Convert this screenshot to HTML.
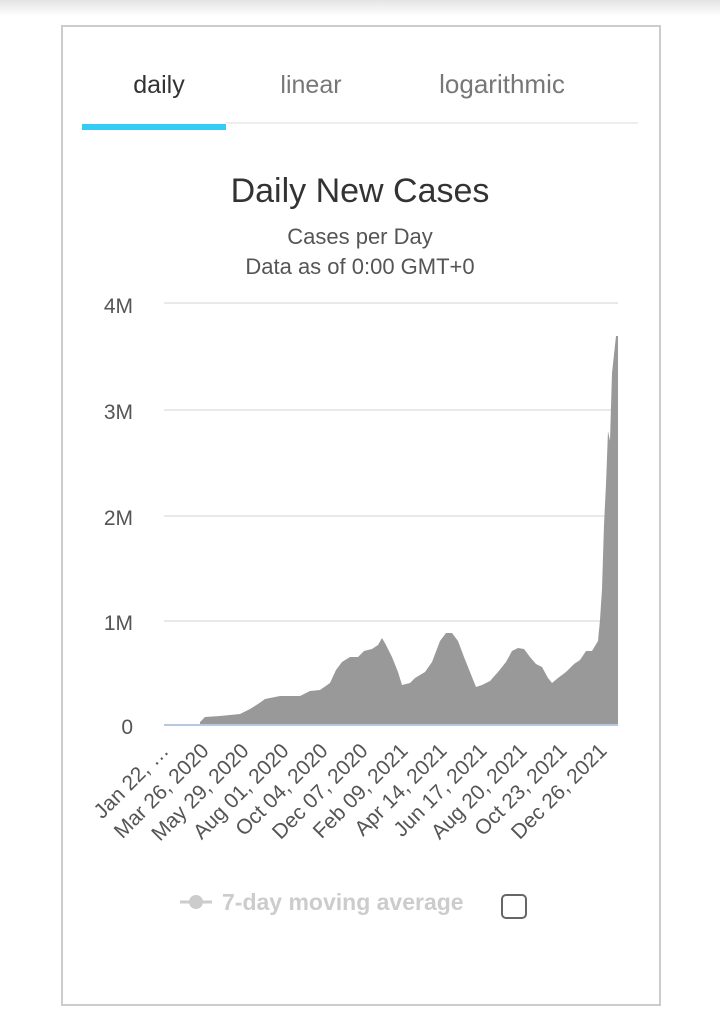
<!DOCTYPE html>
<html><head><meta charset="utf-8"><style>
body{margin:0;width:720px;height:1016px;background:#fff;position:relative;overflow:hidden;font-family:"Liberation Sans",sans-serif}
.shadow{position:absolute;left:0;top:0;width:720px;height:16px;background:linear-gradient(#e4e4e4,#fff)}
.card{position:absolute;left:61px;top:25px;width:596px;height:977px;border:2px solid #ccc}
</style></head><body>
<div class="shadow"></div>
<div class="card"></div>
<svg width="720" height="1016" style="position:absolute;left:0;top:0" font-family="Liberation Sans, sans-serif">
<text x="159" y="93" font-size="25" fill="#333" text-anchor="middle">daily</text>
<text x="311" y="93" font-size="25" fill="#777" text-anchor="middle">linear</text>
<text x="502" y="93" font-size="26" fill="#777" text-anchor="middle">logarithmic</text>
<rect x="226" y="122" width="412" height="2" fill="#eee"/>
<rect x="82" y="124" width="144" height="6" fill="#33ccf5"/>
<text x="360" y="202" font-size="34" fill="#333" text-anchor="middle">Daily New Cases</text>
<text x="360" y="244" font-size="22" fill="#555" text-anchor="middle">Cases per Day</text>
<text x="360" y="274" font-size="22" fill="#555" text-anchor="middle">Data as of 0:00 GMT+0</text>
<g stroke="#e2e2e2" stroke-width="1.5">
<line x1="164" y1="303" x2="618" y2="303"/><line x1="164" y1="410" x2="618" y2="410"/>
<line x1="164" y1="516" x2="618" y2="516"/><line x1="164" y1="621" x2="618" y2="621"/>
</g>
<g font-size="21" fill="#555" text-anchor="end">
<text x="133" y="313">4M</text><text x="133" y="419">3M</text><text x="133" y="525">2M</text><text x="133" y="630">1M</text><text x="133" y="734">0</text>
</g>
<path fill="#999" d="M164,725 L200,725 200,722 203,719 205,717 220,716 240,714 250,709 258,704 265,699 280,696 300,696 310,691 320,690 330,683 336,670 342,662 350,657 358,657 364,651 372,649 378,645 382,638 386,645 392,657 398,672 402,685 410,683 415,678 425,672 432,662 440,641 446,633 452,633 458,641 464,657 470,672 476,687 482,685 490,681 498,672 506,662 512,651 518,648 524,649 530,657 536,664 542,667 548,678 552,683 558,678 566,672 574,664 580,660 586,651 592,651 598,641 600,620 602,589 604,525 606,484 608,431 610,441 612,373 616,336 618,336 618,725 Z"/>
<line x1="164" y1="725" x2="618" y2="725" stroke="#b8c8e0" stroke-width="2"/>
<g font-size="21" fill="#555" text-anchor="end">
<text transform="translate(170,752) rotate(-45)">Jan 22, …</text>
<text transform="translate(210,752) rotate(-45)">Mar 26, 2020</text>
<text transform="translate(250,752) rotate(-45)">May 29, 2020</text>
<text transform="translate(290,752) rotate(-45)">Aug 01, 2020</text>
<text transform="translate(329,752) rotate(-45)">Oct 04, 2020</text>
<text transform="translate(369,752) rotate(-45)">Dec 07, 2020</text>
<text transform="translate(409,752) rotate(-45)">Feb 09, 2021</text>
<text transform="translate(448,752) rotate(-45)">Apr 14, 2021</text>
<text transform="translate(488,752) rotate(-45)">Jun 17, 2021</text>
<text transform="translate(528,752) rotate(-45)">Aug 20, 2021</text>
<text transform="translate(568,752) rotate(-45)">Oct 23, 2021</text>
<text transform="translate(608,752) rotate(-45)">Dec 26, 2021</text>
</g>
<line x1="180" y1="902" x2="212" y2="902" stroke="#ccc" stroke-width="3"/>
<circle cx="196" cy="902" r="7" fill="#ccc"/>
<text x="222" y="910" font-size="23" font-weight="bold" fill="#ccc">7-day moving average</text>
<rect x="502" y="895" width="24" height="23" rx="4" fill="none" stroke="#666" stroke-width="2"/>
</svg>
</body></html>
